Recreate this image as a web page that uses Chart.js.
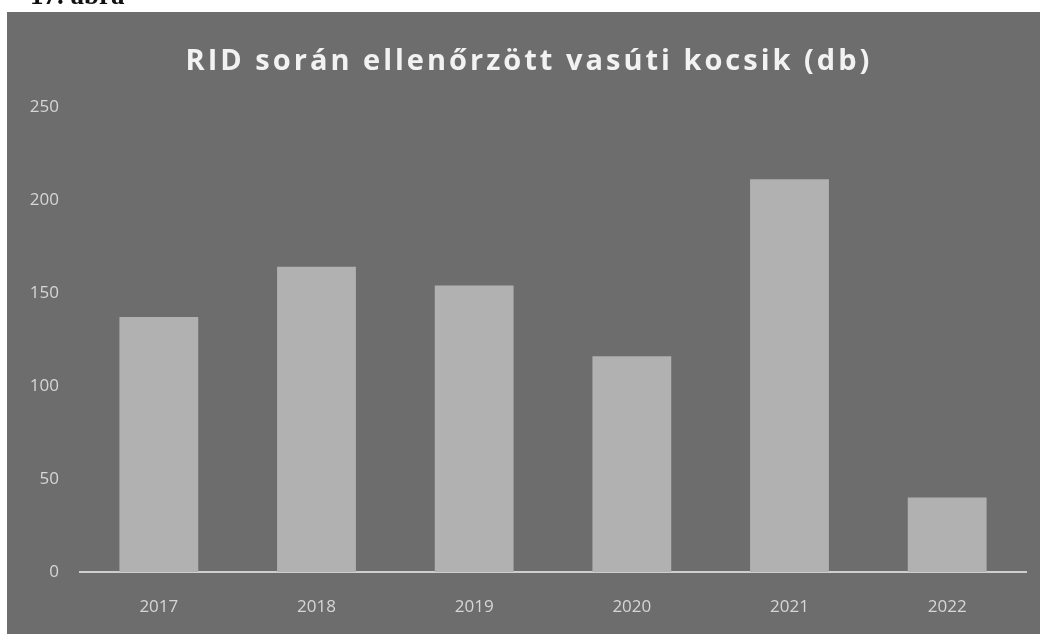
<!DOCTYPE html>
<html>
<head>
<meta charset="utf-8">
<script src="https://cdn.jsdelivr.net/npm/chart.js@4.4.0/dist/chart.umd.min.js"></script>
<style>
  html, body { margin: 0; padding: 0; background: #fff; }
  #wrap { position: relative; width: 1040px; height: 634px; overflow: hidden; }
  #caption { position: absolute; left: 30px; top: -20px; font: bold 27px "Liberation Serif", serif; color: #111; }
  #chart { position: absolute; left: 0; top: 0; }
</style>
</head>
<body>
<div id="wrap">
  <canvas id="chart" width="1040" height="634"></canvas>
  <div id="caption">17. ábra</div>
</div>
<script>
const years = ['2017', '2018', '2019', '2020', '2021', '2022'];
const checkedWagons = [137, 164, 154, 116, 211, 40];
const yTicks = [0, 50, 100, 150, 200, 250];

const ctx = document.getElementById('chart').getContext('2d');

// grey panel behind the chart, leaving the white scan margin top and left
const panel = {
    id: 'panel',
    beforeDraw(chart) {
        const c = chart.ctx;
        c.save();
        c.fillStyle = '#ffffff';
        c.fillRect(0, 0, chart.width, chart.height);
        c.fillStyle = '#6d6d6d';
        c.fillRect(7, 12, chart.width - 7, chart.height - 12);
        c.restore();
    },
    // the title in the scan is spaced out and sits a bit right of centre
    afterLayout(chart) {
        const t = chart.titleBlock;
        if (t && !t._spaced) {
            const orig = t.draw.bind(t);
            t.draw = function () {
                chart.ctx.save();
                chart.ctx.translate(16, 0);
                chart.ctx.letterSpacing = '3px';
                orig();
                chart.ctx.restore();
            };
            t._spaced = true;
        }
    }
};

const chart = new Chart(ctx, {
    type: 'bar',
    data: {
        labels: years,
        datasets: [{
            label: 'RID',
            backgroundColor: '#b1b1b1',
            data: checkedWagons,
            categoryPercentage: 1,
            barPercentage: 0.5
        }]
    },
    options: {
        responsive: false,
        animation: false,
        layout: { padding: { left: 0, right: 14, top: 0, bottom: 0 } },
        plugins: {
            legend: { display: false },
            tooltip: { enabled: false },
            title: {
                display: true,
                text: 'RID során ellenőrzött vasúti kocsik (db)',
                color: '#f2f2f2',
                font: { family: 'Open Sans', size: 29, weight: 'bold', lineHeight: 1.2 },
                padding: { top: 44, bottom: 28 }
            }
        },
        scales: {
            x: {
                grid: { display: false, drawTicks: false },
                border: { display: true, color: '#cfcfcf', width: 2 },
                ticks: { color: '#d6d6d6', font: { family: 'Open Sans', size: 17 }, padding: 25 },
                afterFit(scale) { scale.height = 62; }
            },
            y: {
                min: 0,
                max: 250,
                afterBuildTicks(scale) { scale.ticks = yTicks.map(v => ({ value: v })); },
                grid: { display: false, drawTicks: false },
                border: { display: false },
                ticks: { color: '#d6d6d6', font: { family: 'Open Sans', size: 17 }, padding: 21 },
                afterFit(scale) { scale.width = 80; }
            }
        }
    },
    plugins: [panel]
});
</script>
</body>
</html>
